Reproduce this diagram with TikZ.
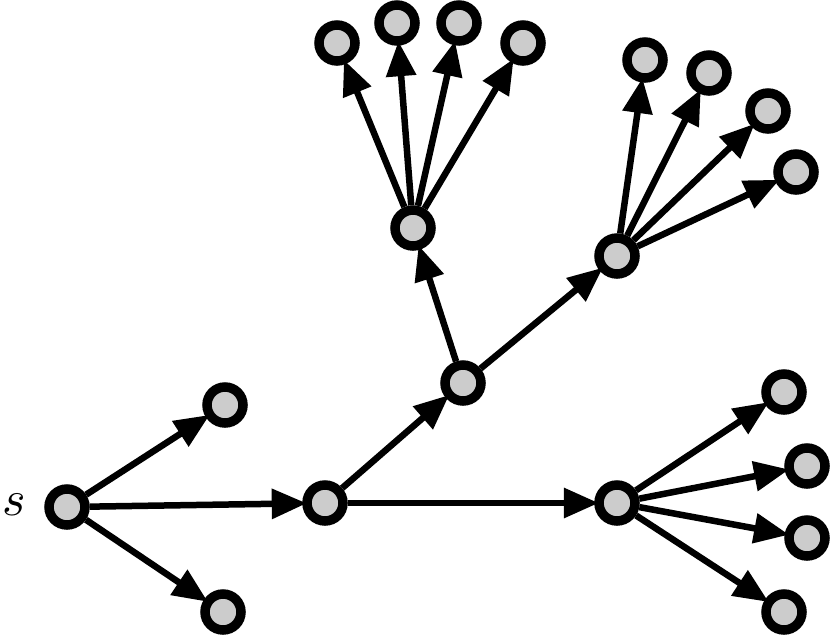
\documentclass[tikz,border=0pt]{standalone}
\usetikzlibrary{arrows.meta}
\definecolor{nodegray}{HTML}{CCCCCC}
\begin{document}
\begin{tikzpicture}[x=1pt,y=-1pt,
  vtx/.style={circle,draw=black,fill=nodegray,line width=9.5pt,minimum size=36pt,inner sep=0pt},
  arr/.style={-{Triangle[length=35pt,width=29pt]},line width=6.5pt,shorten >=-4.5pt}]
\useasboundingbox (0,0) rectangle (830,640);
\node[vtx] (s) at (67,507) {};
\node[vtx] (a) at (225,405) {};
\node[vtx] (b) at (223,612) {};
\node[vtx] (m) at (325,503) {};
\node[vtx] (c) at (463,383) {};
\node[vtx] (r) at (617,503) {};
\node[vtx] (u) at (413,228) {};
\node[vtx] (v) at (617,256) {};
\node[vtx] (u1) at (337,43) {};
\node[vtx] (u2) at (397,23) {};
\node[vtx] (u3) at (459,23) {};
\node[vtx] (u4) at (523,43) {};
\node[vtx] (v1) at (645,60) {};
\node[vtx] (v2) at (709,73) {};
\node[vtx] (v3) at (768,111) {};
\node[vtx] (v4) at (796,172) {};
\node[vtx] (r1) at (784,392) {};
\node[vtx] (r2) at (807,466) {};
\node[vtx] (r3) at (807,538) {};
\node[vtx] (r4) at (784,612) {};
\node[inner sep=0pt,scale=5] (slabel) at (14,505) {$s$};
\foreach \a/\b in {s/a,s/b,s/m,m/c,m/r,c/u,c/v,u/u1,u/u2,u/u3,u/u4,v/v1,v/v2,v/v3,v/v4,r/r1,r/r2,r/r3,r/r4}
  \draw[arr] (\a) -- (\b);
\end{tikzpicture}
\end{document}
